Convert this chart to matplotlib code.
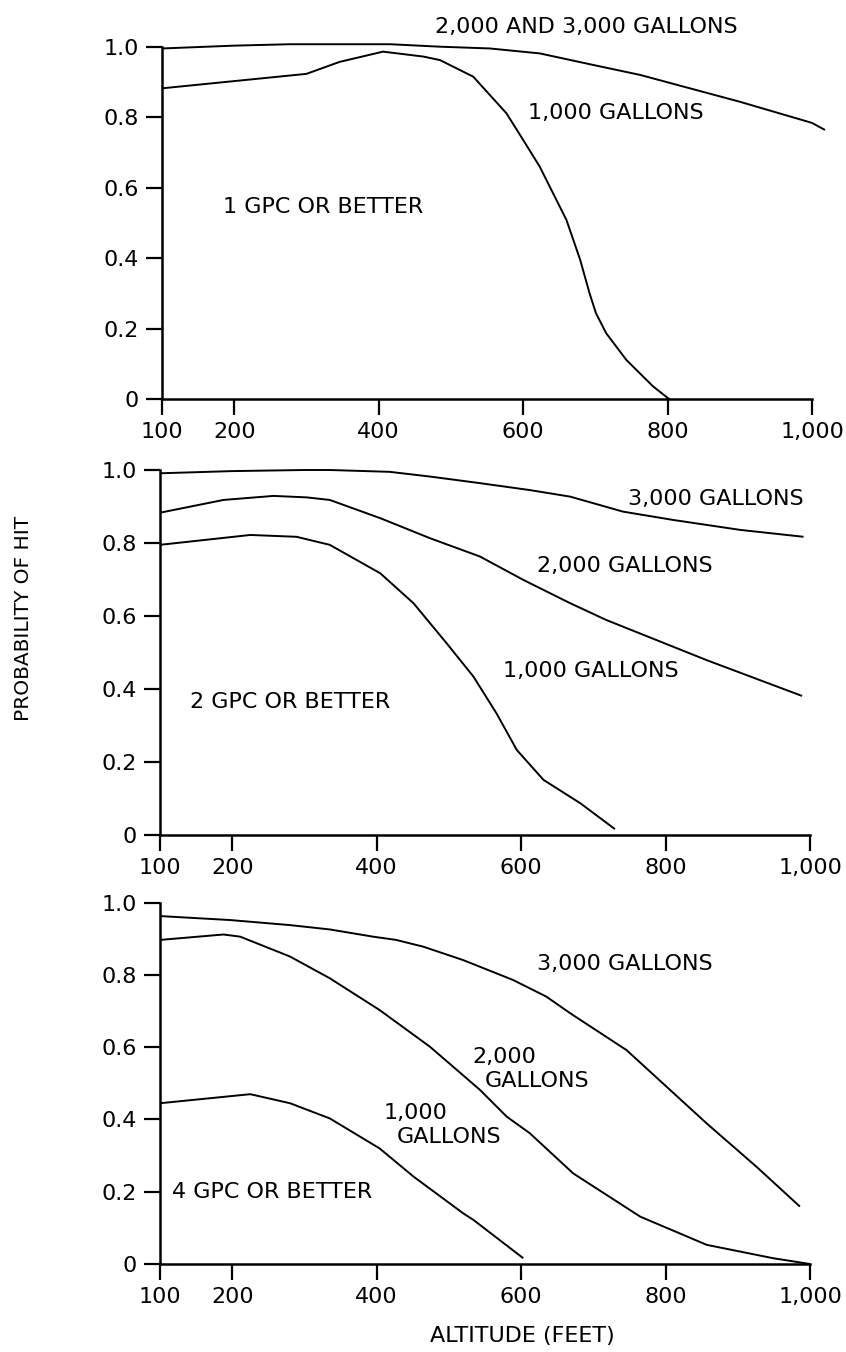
import matplotlib
matplotlib.use("Agg")
import matplotlib.pyplot as plt

# ---------------- data ----------------
x_ticks = [100, 200, 400, 600, 800, 1000]
x_tick_labels = ["100", "200", "400", "600", "800", "1,000"]
y_ticks = [0, 0.2, 0.4, 0.6, 0.8, 1.0]
y_tick_labels = ["0", "0.2", "0.4", "0.6", "0.8", "1.0"]

# Panel 1: 1 GPC or better
p1_alt_23 = [100, 200, 277, 416, 485, 554, 623, 700, 762, 900, 1000, 1018]
p1_val_23 = [0.995, 1.003, 1.007, 1.007, 1.0, 0.995, 0.981, 0.947, 0.920, 0.844, 0.784, 0.764]
p1_alt_1 = [100, 300, 346, 406, 462, 485, 531, 577, 600, 623, 660, 679, 692, 701, 715, 743, 780, 803]
p1_val_1 = [0.882, 0.923, 0.957, 0.986, 0.972, 0.962, 0.915, 0.811, 0.736, 0.660, 0.509, 0.396,
            0.301, 0.244, 0.188, 0.112, 0.037, 0.0]

# Panel 2: 2 GPC or better
p2_alt_3 = [100, 200, 300, 335, 418, 474, 543, 612, 668, 741, 811, 903, 991]
p2_val_3 = [0.991, 0.997, 1.0, 1.0, 0.995, 0.982, 0.964, 0.945, 0.927, 0.886, 0.863, 0.836, 0.817]
p2_alt_2 = [100, 188, 257, 303, 335, 405, 474, 543, 603, 668, 718, 857, 989]
p2_val_2 = [0.883, 0.918, 0.929, 0.925, 0.918, 0.868, 0.813, 0.763, 0.699, 0.635, 0.589, 0.479, 0.381]
p2_alt_1 = [100, 225, 289, 335, 405, 451, 497, 534, 566, 594, 631, 682, 730]
p2_val_1 = [0.795, 0.822, 0.817, 0.795, 0.717, 0.635, 0.525, 0.434, 0.333, 0.233, 0.151, 0.087, 0.016]

# Panel 3: 4 GPC or better
p3_alt_3 = [100, 197, 280, 335, 395, 427, 465, 520, 589, 635, 668, 746, 857, 926, 986]
p3_val_3 = [0.963, 0.952, 0.938, 0.926, 0.906, 0.897, 0.878, 0.841, 0.786, 0.740, 0.694, 0.592,
            0.389, 0.269, 0.159]
p3_alt_2 = [100, 188, 211, 280, 335, 404, 474, 543, 580, 612, 672, 765, 857, 949, 1000]
p3_val_2 = [0.897, 0.912, 0.906, 0.851, 0.791, 0.703, 0.601, 0.482, 0.408, 0.362, 0.251, 0.131,
            0.053, 0.016, 0.0]
p3_alt_1 = [100, 225, 280, 335, 404, 451, 520, 534, 603]
p3_val_1 = [0.445, 0.470, 0.445, 0.403, 0.320, 0.242, 0.140, 0.122, 0.016]

# ---------------- figure ----------------
plt.rcParams['font.family'] = ['DejaVu Sans']
FS = 16
fig = plt.figure(figsize=(8.46, 13.52), dpi=100)

rects = [
    [162 / 846, 1 - 399.5 / 1352, 650 / 846, 352.8 / 1352],
    [160 / 846, 1 - 835 / 1352, 650 / 846, 365 / 1352],
    [160 / 846, 1 - 1264 / 1352, 650 / 846, 361.3 / 1352],
]

series = [
    [(p1_alt_23, p1_val_23), (p1_alt_1, p1_val_1)],
    [(p2_alt_3, p2_val_3), (p2_alt_2, p2_val_2), (p2_alt_1, p2_val_1)],
    [(p3_alt_3, p3_val_3), (p3_alt_2, p3_val_2), (p3_alt_1, p3_val_1)],
]

labels = [
    [("2,000 AND 3,000 GALLONS", 478, 1.056), ("1,000 GALLONS", 607, 0.812),
     ("1 GPC OR BETTER", 184, 0.546)],
    [("3,000 GALLONS", 748, 0.921), ("2,000 GALLONS", 622, 0.737),
     ("1,000 GALLONS", 575, 0.449), ("2 GPC OR BETTER", 141, 0.364)],
    [("3,000 GALLONS", 622, 0.830), ("2,000", 532, 0.573), ("GALLONS", 550, 0.506),
     ("1,000", 409, 0.418), ("GALLONS", 428, 0.351), ("4 GPC OR BETTER", 117, 0.199)],
]

for rect, ser, labs in zip(rects, series, labels):
    ax = fig.add_axes(rect)
    for xs, ys in ser:
        ax.plot(xs, ys, color='black', lw=1.4, clip_on=False, solid_capstyle='butt')
    ax.set_xlim(100, 1000)
    ax.set_ylim(0, 1.0)
    ax.spines['top'].set_visible(False)
    ax.spines['right'].set_visible(False)
    ax.spines['left'].set_linewidth(1.8)
    ax.spines['bottom'].set_linewidth(1.8)
    ax.set_xticks(x_ticks)
    ax.set_xticklabels(x_tick_labels)
    ax.set_yticks(y_ticks)
    ax.set_yticklabels(y_tick_labels)
    ax.tick_params(axis='both', direction='out', length=11.5, width=1.6,
                   labelsize=FS, colors='black')
    ax.tick_params(axis='x', pad=5)
    ax.tick_params(axis='y', pad=5)
    for txt, xx, yy in labs:
        ax.text(xx, yy, txt, fontsize=FS, ha='left', va='center', clip_on=False)

fig.text(24 / 846, 1 - 618 / 1352, "PROBABILITY OF HIT", rotation=90,
         ha='center', va='center', fontsize=14.5)
fig.text(522 / 846, 1 - 1336 / 1352, "ALTITUDE (FEET)", ha='center', va='center',
         fontsize=FS)

fig.savefig("out.png", dpi=100)
